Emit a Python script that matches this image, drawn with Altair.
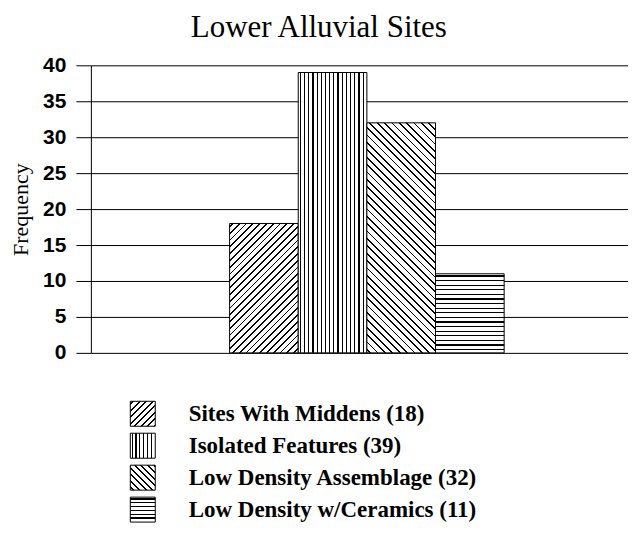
import altair as alt
import pandas as pd

# ---- data ----
categories = ["Sites With Middens", "Isolated Features",
              "Low Density Assemblage", "Low Density w/Ceramics"]
values = [18, 39, 32, 11]
patterns = ["fwd", "vert", "back", "horiz"]
y_ticks = [0, 5, 10, 15, 20, 25, 30, 35, 40]
title_text = "Lower Alluvial Sites"
y_title = "Frequency"

labels = [f"{c} ({v})" for c, v in zip(categories, values)]
df = pd.DataFrame({"cat": categories, "value": values, "label": labels})

# ---- layout ----
W, H = 538, 288
Y_MAX = 40
# empty slots on the band scale so the bars sit where they do in the original
x_domain = ["_l1", "_l2"] + categories + ["_r1"]
PAD_OUTER = 0.413
ALIGN = 0.026
STEP = W / (len(x_domain) + 2 * PAD_OUTER)

SERIF = "Liberation Serif"
SANS = "Liberation Sans"

# stripe periods (px) for each hatch kind
PERIOD_BAR = {"fwd": 6.8, "vert": 4.2, "back": 7.4, "horiz": 4.6}
PERIOD_LEG = {"fwd": 6.5, "vert": 3.8, "back": 6.5, "horiz": 3.8}


def hatch(kind, w, h, period):
    """Linear gradient with hard stops that imitates a hatch pattern."""
    if kind == "vert":
        L, thick = w, 1.2
        coords = dict(x1=0, y1=0, x2=1, y2=0)
    elif kind == "horiz":
        L, thick = h, 1.2
        coords = dict(x1=0, y1=0, x2=0, y2=1)
    else:
        L, thick = w + h, 1.8
        k = (w + h) / (w * w + h * h)
        if kind == "fwd":
            coords = dict(x1=0, y1=0, x2=w * k, y2=h * k)
        else:
            coords = dict(x1=0, y1=1, x2=w * k, y2=1 - h * k)
    stops = [alt.GradientStop(offset=0, color="#ffffff")]
    n = 0
    while True:
        c0 = period * (n + 0.5) - thick / 2
        c1 = c0 + thick
        if c1 >= L:
            break
        a, b = c0 / L, c1 / L
        stops += [
            alt.GradientStop(offset=a, color="#ffffff"),
            alt.GradientStop(offset=a, color="#000000"),
            alt.GradientStop(offset=b, color="#000000"),
            alt.GradientStop(offset=b, color="#ffffff"),
        ]
        n += 1
    stops.append(alt.GradientStop(offset=1, color="#ffffff"))
    return alt.LinearGradient(gradient="linear", stops=stops, **coords)


x_enc = alt.X("cat:N", axis=None,
              scale=alt.Scale(domain=x_domain, paddingInner=0,
                              paddingOuter=PAD_OUTER, align=ALIGN))
y_enc = alt.Y("value:Q",
              scale=alt.Scale(domain=[0, Y_MAX], nice=False),
              axis=alt.Axis(values=y_ticks, title=y_title, grid=True,
                            gridColor="#000000", gridOpacity=1, gridWidth=1,
                            domain=True, domainColor="#000000", domainWidth=1,
                            ticks=True, tickSize=15, tickColor="#000000",
                            tickWidth=1,
                            labelFont=SANS, labelFontSize=21,
                            labelFontWeight="bold", labelColor="#000000",
                            labelPadding=10,
                            titleFont=SERIF, titleFontSize=22,
                            titleFontWeight="normal", titleColor="#000000",
                            titlePadding=10))

bar_layers = []
for cat, val, pat in zip(categories, values, patterns):
    h = val * H / Y_MAX
    bar_layers.append(
        alt.Chart(df).transform_filter(alt.datum.cat == cat)
        .mark_bar(fill=hatch(pat, STEP, h, PERIOD_BAR[pat]),
                  stroke="#000000", strokeWidth=1)
        .encode(x=x_enc, y=y_enc)
    )
main = alt.layer(*bar_layers).properties(width=W, height=H)

# ---- custom legend ----
BOX = 25
leg_y = alt.Y("cat:N", axis=None,
              scale=alt.Scale(domain=categories, paddingInner=0,
                              paddingOuter=0))
leg_layers = []
for cat, pat in zip(categories, patterns):
    leg_layers.append(
        alt.Chart(df).transform_filter(alt.datum.cat == cat)
        .mark_square(size=BOX * BOX, opacity=1,
                     fill=hatch(pat, BOX, BOX, PERIOD_LEG[pat]),
                     stroke="#000000", strokeWidth=1)
        .encode(x=alt.value(52), y=leg_y)
    )
leg_layers.append(
    alt.Chart(df).mark_text(align="left", baseline="middle", font=SERIF,
                            fontSize=23, fontWeight="bold", color="#000000")
    .encode(x=alt.value(98), y=leg_y, text="label:N")
)
legend = alt.layer(*leg_layers).properties(width=W, height=128)

chart = alt.vconcat(main, legend, spacing=35).properties(
    title=alt.TitleParams(title_text, font=SERIF, fontSize=31,
                          fontWeight="normal", color="#000000",
                          anchor="middle", offset=10),
    padding={"left": 1, "top": 4, "right": 0, "bottom": 0},
).configure_view(strokeWidth=0)

chart.save("out.html", embed_options={"renderer": "svg", "actions": False})
